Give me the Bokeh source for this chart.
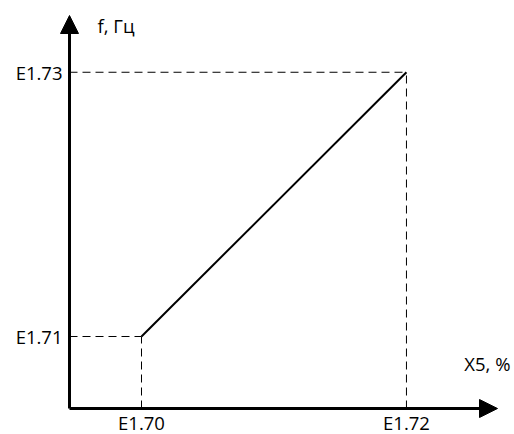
from bokeh.plotting import figure
from bokeh.models import Arrow, NormalHead, Range1d, ColumnDataSource
from bokeh.core.properties import value
from bokeh.embed import file_html
from bokeh.resources import INLINE

# data (arbitrary units; ticks are symbolic parameter names)
x_vals = [1.0, 4.68]
y_vals = [1.0, 4.67]
x_labels = ["E1.70", "E1.72"]
y_labels = ["E1.71", "E1.73"]
x_title = "X5, %"
y_title = "f, Гц"

W, H = 514, 434
PX = 72.0  # pixels per unit
ox, oy = 69, 408  # origin in pixels from top-left
x0 = -ox / PX
y0 = -(H - oy) / PX
p = figure(width=W, height=H, output_backend="svg", toolbar_location=None,
           x_range=Range1d(x0, x0 + W / PX), y_range=Range1d(y0, y0 + H / PX),
           x_axis_type=None, y_axis_type=None, min_border=0)
p.grid.visible = False
p.outline_line_color = None
p.background_fill_color = "white"

font = value("Open Sans")
fs = "18.5px"

# axes with arrows
x_end = (497 - ox) / PX
y_end = (oy - 15) / PX
p.add_layout(Arrow(x_start=0, y_start=0, x_end=x_end, y_end=0, line_width=3,
                   line_color="black",
                   end=NormalHead(size=18, fill_color="black", line_color="black", line_width=1)))
p.add_layout(Arrow(x_start=0, y_start=0, x_end=0, y_end=y_end, line_width=3,
                   line_color="black",
                   end=NormalHead(size=18, fill_color="black", line_color="black", line_width=1)))

# dashed guides
for xv, yv in zip(x_vals, y_vals):
    p.line([xv, xv], [0, yv], line_color="black", line_width=1, line_dash="8 5")
    p.line([0, xv], [yv, yv], line_color="black", line_width=1, line_dash="8 5")

# characteristic
p.line(x_vals, y_vals, line_color="black", line_width=2)

# tick labels
xs = ColumnDataSource(dict(x=x_vals, y=[0] * len(x_vals), t=x_labels))
p.text(x="x", y="y", text="t", source=xs, text_font=font, text_font_size=fs,
       text_align="center", text_baseline="middle", y_offset=14, text_color="black")
ys = ColumnDataSource(dict(x=[0] * len(y_vals), y=y_vals, t=y_labels))
p.text(x="x", y="y", text="t", source=ys, text_font=font, text_font_size=fs,
       text_align="right", text_baseline="middle", x_offset=-7, text_color="black")

# axis titles
p.text(x=[x_end], y=[0], text=[x_title], text_font=font, text_font_size=fs,
       text_align="right", text_baseline="middle", y_offset=-45, x_offset=13,
       text_color="black")
p.text(x=[0], y=[y_end], text=[y_title], text_font=font, text_font_size=fs,
       text_align="left", text_baseline="middle", x_offset=28, y_offset=10,
       text_color="black")

open("out.html", "w").write(file_html(p, INLINE))
